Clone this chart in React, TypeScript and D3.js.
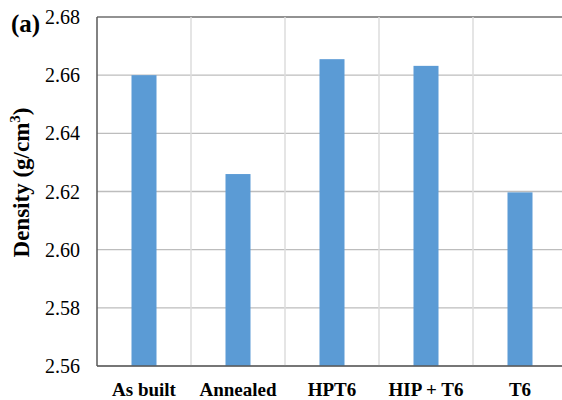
import React from "react";
import * as d3 from "d3";

const categories = ["As built", "Annealed", "HPT6", "HIP + T6", "T6"];
const density = [2.66, 2.626, 2.6655, 2.6632, 2.6197];
const yTicks = [2.56, 2.58, 2.6, 2.62, 2.64, 2.66, 2.68];

const W = 562;
const H = 400;
const margin = { left: 97, right: -5, top: 17, bottom: 34 };
const FONT = '"Liberation Serif", "Times New Roman", Times, serif';

export default function App() {
  const x = d3
    .scaleBand<string>()
    .domain(categories)
    .range([margin.left, W - margin.right])
    .paddingInner(0)
    .paddingOuter(0);
  const y = d3
    .scaleLinear()
    .domain([2.56, 2.68])
    .range([H - margin.bottom, margin.top]);
  const bw = x.bandwidth() * 0.266;
  const ts: React.CSSProperties = { fontFamily: FONT };

  return (
    <svg
      width={W}
      height={H}
      style={{ position: "absolute", left: 0, top: 0, background: "#fff", fontFamily: FONT }}
    >
      {yTicks.map((t) => (
        <line
          key={"h" + t}
          x1={margin.left}
          x2={W - margin.right}
          y1={y(t)}
          y2={y(t)}
          stroke={t === 2.68 ? "#6e6e6e" : "#bdbdbd"}
          strokeWidth={1.3}
        />
      ))}
      {categories.slice(1).map((c) => (
        <line
          key={"v" + c}
          x1={x(c)!}
          x2={x(c)!}
          y1={margin.top}
          y2={H - margin.bottom}
          stroke="#dcdcdc"
          strokeWidth={1.5}
        />
      ))}
      {categories.map((c, i) => (
        <rect
          key={"b" + c}
          x={x(c)! + x.bandwidth() / 2 - bw / 2}
          y={y(density[i])}
          width={bw}
          height={y(2.56) - y(density[i])}
          fill="#5b9bd5"
        />
      ))}
      <line
        x1={margin.left}
        x2={margin.left}
        y1={margin.top}
        y2={H - margin.bottom}
        stroke="#595959"
        strokeWidth={1.5}
      />
      <line
        x1={margin.left}
        x2={W - margin.right}
        y1={H - margin.bottom}
        y2={H - margin.bottom}
        stroke="#595959"
        strokeWidth={1.5}
      />
      {yTicks.map((t) => (
        <text
          key={"t" + t}
          x={80}
          y={y(t)}
          dy="0.35em"
          textAnchor="end"
          fontSize={20}
          fill="#000"
          style={ts}
        >
          {d3.format(".2f")(t)}
        </text>
      ))}
      {categories.map((c) => (
        <text
          key={"x" + c}
          x={x(c)! + x.bandwidth() / 2}
          y={396}
          textAnchor="middle"
          fontSize={19}
          fontWeight="bold"
          fill="#000"
          style={ts}
        >
          {c}
        </text>
      ))}
      <text
        transform={`translate(29, ${(y(2.56) + y(2.68)) / 2 - 9}) rotate(-90)`}
        textAnchor="middle"
        fontSize={23}
        fontWeight="bold"
        fill="#000"
        style={ts}
      >
        Density (g/cm
        <tspan fontSize={15} dy={-9}>
          3
        </tspan>
        <tspan dy={9}>)</tspan>
      </text>
      <text x={11} y={32} fontSize={25} fontWeight="bold" fill="#000" style={ts}>
        (a)
      </text>
    </svg>
  );
}
